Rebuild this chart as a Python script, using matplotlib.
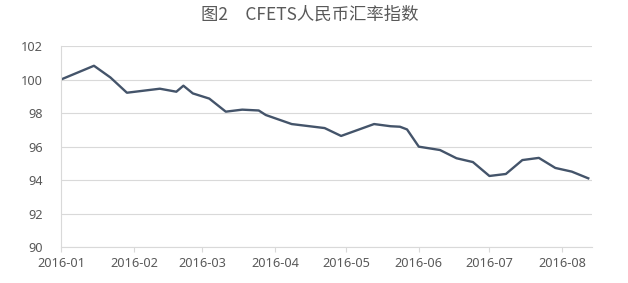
import matplotlib
matplotlib.use("Agg")
import matplotlib.pyplot as plt
import matplotlib.dates as mdates
import pandas as pd
from datetime import datetime

dates = ["2016-01-01", "2016-01-15", "2016-01-22", "2016-01-29", "2016-02-12",
         "2016-02-19", "2016-02-22", "2016-02-26", "2016-03-04", "2016-03-11",
         "2016-03-18", "2016-03-25", "2016-03-28", "2016-04-08", "2016-04-22",
         "2016-04-29", "2016-05-13", "2016-05-20", "2016-05-24", "2016-05-27",
         "2016-06-01", "2016-06-10", "2016-06-17", "2016-06-24", "2016-07-01",
         "2016-07-08", "2016-07-15", "2016-07-22", "2016-07-29", "2016-08-05",
         "2016-08-12"]
values = [100.00, 100.82, 100.12, 99.21, 99.45,
          99.27, 99.63, 99.17, 98.86, 98.08,
          98.20, 98.15, 97.88, 97.34, 97.10,
          96.63, 97.34, 97.21, 97.18, 97.02,
          95.99, 95.79, 95.30, 95.07, 94.24,
          94.36, 95.19, 95.32, 94.72, 94.50,
          94.10]
y_ticks = [90, 92, 94, 96, 98, 100, 102]
month_ticks = ["2016-01-01", "2016-02-01", "2016-03-01", "2016-04-01",
               "2016-05-01", "2016-06-01", "2016-07-01", "2016-08-01"]
title = "图2　CFETS人民币汇率指数"

x = pd.to_datetime(dates)

fig = plt.figure(figsize=(6.28, 2.83), dpi=100)
ax = fig.add_axes([61/628, 1-247/283, (592-61)/628, (247-46)/283])

ax.plot(x, values, color="#44546a", lw=1.7, solid_joinstyle="round")

ax.set_ylim(90, 102)
ax.set_yticks(y_ticks)
ax.set_xlim(datetime(2016, 1, 1), datetime(2016, 8, 13, 14))
ax.set_xticks(pd.to_datetime(month_ticks))
ax.xaxis.set_major_formatter(mdates.DateFormatter("%Y-%m"))

ax.grid(axis="y", color="#d9d9d9", lw=0.8)
ax.set_axisbelow(True)
for s in ["top", "right"]:
    ax.spines[s].set_visible(False)
for s in ["left", "bottom"]:
    ax.spines[s].set_color("#d9d9d9")
    ax.spines[s].set_linewidth(0.8)

tick_font = dict(family="Noto Sans", size=9.2)
ax.tick_params(axis="y", length=0, pad=13, labelcolor="#595959")
ax.tick_params(axis="x", length=3.5, width=0.8, color="#d9d9d9", pad=4, labelcolor="#595959")
for lab in ax.get_xticklabels() + ax.get_yticklabels():
    lab.set_fontfamily("Noto Sans")
    lab.set_fontsize(9.2)

fig.text(310/628, 1-15/283, title, ha="center", va="center", fontsize=12.5,
         color="#595959", family=["Noto Sans CJK SC", "DejaVu Sans"])

fig.savefig("out.png", dpi=100, facecolor="white")
